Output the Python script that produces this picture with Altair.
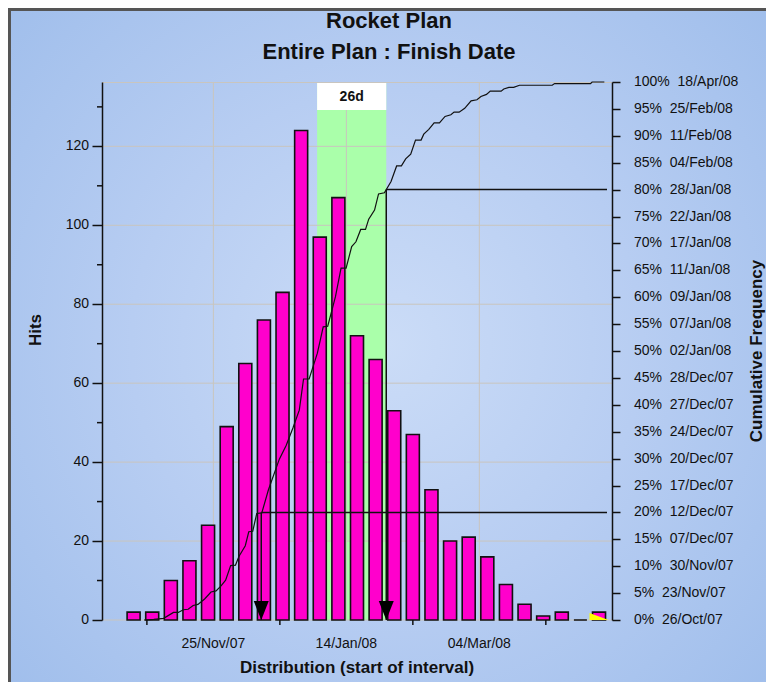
import altair as alt
import pandas as pd

# ---------------- data ----------------
bin_start = ["2007-10-26", "2007-11-02", "2007-11-09", "2007-11-16", "2007-11-23", "2007-11-30",
             "2007-12-07", "2007-12-14", "2007-12-21", "2007-12-28", "2008-01-04", "2008-01-11",
             "2008-01-18", "2008-01-25", "2008-02-01", "2008-02-08", "2008-02-15", "2008-02-22",
             "2008-02-29", "2008-03-07", "2008-03-14", "2008-03-21", "2008-03-28", "2008-04-04",
             "2008-04-11", "2008-04-18"]
hits = [2, 2, 10, 15, 24, 49, 65, 76, 83, 124, 97, 107, 72, 66, 53, 47, 33, 20, 21, 16, 9, 4, 1, 2, 0, 2]

# cumulative curve: days after first interval start, cumulative percent
cdf_days = [3.9, 7.6, 11.3, 15.0, 16.8, 18.7, 20.5, 22.4, 24.2, 26.7, 29.1, 31.0, 32.8, 34.6,
            36.5, 38.3, 39.6, 42.0, 43.3, 44.8, 46.3, 48.2, 50.7, 54.8, 57.4, 59.9, 62.3, 63.9,
            66.0, 69.1, 71.3, 73.0, 75.9, 78.0, 79.9, 82.0, 83.6, 85.4, 87.2, 88.4, 90.6, 92.1,
            94.3, 96.8, 98.9, 100.7, 102.3, 104.2, 106.0, 108.1, 109.1, 111.0, 113.0, 115.0,
            117.1, 119.3, 120.5, 122.4, 124.5, 126.9, 129.1, 130.6, 132.7, 134.1, 138.2, 139.2,
            141.1, 142.9, 145.1, 157.4, 158.3, 171.8, 172.4, 177.0]
cdf_pct = [0, 0.1, 0.3, 1.4, 1.4, 1.9, 2.0, 2.7, 2.9, 3.9, 5.2, 5.4, 6.3, 7.4,
           10.1, 10.2, 11.8, 13.8, 16.4, 16.5, 19.8, 19.9, 24.2, 29.9, 32.5, 35.7, 39.0, 44.8,
           44.8, 49.6, 54.5, 54.6, 60.1, 65.4, 65.4, 69.4, 70.3, 72.6, 72.6, 74.5, 76.2, 79.2,
           79.4, 81.5, 84.4, 84.4, 85.7, 86.6, 89.2, 89.2, 90.3, 91.2, 92.4, 92.4,
           93.6, 93.9, 94.4, 94.4, 95.1, 96.5, 96.7, 97.3, 97.7, 98.3, 98.3, 98.7,
           99.0, 99.0, 99.4, 99.4, 99.7, 99.7, 100, 100]

pct_ticks = [0, 5, 10, 15, 20, 25, 30, 35, 40, 45, 50, 55, 60, 65, 70, 75, 80, 85, 90, 95, 100]
pct_dates = ["26/Oct/07", "23/Nov/07", "30/Nov/07", "07/Dec/07", "12/Dec/07", "17/Dec/07",
             "20/Dec/07", "24/Dec/07", "27/Dec/07", "28/Dec/07", "02/Jan/08", "07/Jan/08",
             "09/Jan/08", "11/Jan/08", "17/Jan/08", "22/Jan/08", "28/Jan/08", "04/Feb/08",
             "11/Feb/08", "25/Feb/08", "18/Apr/08"]

marker_pct = [20, 80]
marker_dates = ["2007-12-13", "2008-01-29"]
band_dates = ["2008-01-03", "2008-01-29"]
band_label = ["26d"]
flag_date = ["2008-04-18"]

x_domain = ["2007-10-16", "2008-04-21"]
x_major = ["2007-11-25", "2008-01-14", "2008-03-04"]
x_minor = ["2007-10-31", "2007-12-20", "2008-02-08", "2008-03-29"]
y_major = [0, 20, 40, 60, 80, 100, 120]
y_minor = [10, 30, 50, 70, 90, 110, 130]
y_max = 136.3

titles = ["Rocket Plan", "Entire Plan : Finish Date"]
x_title = "Distribution (start of interval)"
y_title = "Hits"
y2_title = "Cumulative Frequency"

# ---------------- layout / style ----------------
W, H = 510, 538
PL, PT, PR, PB = 94, 74, 154, 62
FONT = "Liberation Sans"
INK = "#111111"
GRID = "#c9c5be"
LBL = 14


def dt(s):
    y, m, d = (int(v) for v in s.split("-"))
    return alt.DateTime(year=y, month=m, date=d)


X_SCALE = alt.Scale(domain=[dt(x_domain[0]), dt(x_domain[1])])
Y_SCALE = alt.Scale(domain=[0, y_max], nice=False, zero=True)
P_SCALE = alt.Scale(domain=[0, 100], nice=False)

bars_df = pd.DataFrame({"date": pd.to_datetime(bin_start), "hits": hits})
cdf_df = pd.DataFrame({"date": pd.Timestamp(bin_start[0]) + pd.to_timedelta(cdf_days, unit="D"),
                       "pct": cdf_pct})
mark_df = pd.DataFrame({"date": pd.to_datetime(marker_dates), "pct": marker_pct,
                        "end": pd.to_datetime([x_domain[1]] * len(marker_dates))})
b0, b1 = pd.to_datetime(band_dates)
band_df = pd.DataFrame({"start": [b0], "end": [b1], "mid": [b0 + (b1 - b0) / 2], "label": band_label})
flag_df = pd.DataFrame({"date": pd.to_datetime(flag_date)})
xmaj_df = pd.DataFrame({"date": pd.to_datetime(x_major)})
xmin_df = pd.DataFrame({"date": pd.to_datetime(x_minor)})
ymaj_df = pd.DataFrame({"v": y_major})
ymin_df = pd.DataFrame({"v": y_minor})
plab_df = pd.DataFrame({"pct": pct_ticks,
                        "label": ["{}%\u00a0\u00a0{}".format(p, d) for p, d in zip(pct_ticks, pct_dates)]})
one = pd.DataFrame({"k": [0]})

bg_grad = alt.Gradient(
    gradient="radial",
    stops=[alt.GradientStop(color="#cbdcf7", offset=0),
           alt.GradientStop(color="#b7cdf2", offset=0.45),
           alt.GradientStop(color="#9bbbea", offset=1)],
    x1=0.5, y1=0.5, x2=0.5, y2=0.5, r1=0, r2=0.75,
)

AX = dict(grid=False, labels=False, tickWidth=1.5, tickColor=INK, domainColor=INK,
          domainWidth=1.5, zindex=1)

# ---------------- layers ----------------
background = alt.Chart(one).mark_rect(color=bg_grad).encode(
    x=alt.value(-PL), x2=alt.value(W + PR), y=alt.value(-PT), y2=alt.value(H + PB)
)
frame_left = alt.Chart(one).mark_rule(color="#555555", strokeWidth=3).encode(
    x=alt.value(-PL + 1.5), y=alt.value(-PT), y2=alt.value(H + PB)
)
frame_top = alt.Chart(one).mark_rule(color="#555555", strokeWidth=3).encode(
    x=alt.value(-PL), x2=alt.value(W + PR), y=alt.value(-PT + 1.5)
)

band = alt.Chart(band_df).mark_rect(color="#aaffaa").encode(
    x=alt.X("start:T", scale=X_SCALE, axis=None), x2="end:T",
    y=alt.value(1), y2=alt.value(H)
)
grid_h = alt.Chart(ymaj_df).mark_rule(color=GRID, strokeWidth=1).encode(
    y=alt.Y("v:Q", scale=Y_SCALE, axis=None)
)
grid_v = alt.Chart(xmaj_df).mark_rule(color=GRID, strokeWidth=1).encode(
    x=alt.X("date:T", scale=X_SCALE, axis=None)
)
grid_top = alt.Chart(one).mark_rule(color=GRID, strokeWidth=1).encode(y=alt.value(0.5))

band_box = alt.Chart(band_df).mark_rect(color="white").encode(
    x=alt.X("start:T", scale=X_SCALE, axis=None), x2="end:T",
    y=alt.value(1), y2=alt.value(28)
)
band_text = alt.Chart(band_df).mark_text(
    font=FONT, fontSize=14, fontWeight="bold", color=INK, baseline="middle", align="center"
).encode(x=alt.X("mid:T", scale=X_SCALE, axis=None), y=alt.value(15), text="label:N")

bars = alt.Chart(bars_df).mark_bar(
    size=13, color="#ff00cc", stroke=INK, strokeWidth=1.6
).encode(
    x=alt.X("date:T", scale=X_SCALE, title=None,
            axis=alt.Axis(values=[dt(s) for s in x_major], tickSize=10, **AX)),
    y=alt.Y("hits:Q", scale=Y_SCALE, title=None,
            axis=alt.Axis(values=y_major, tickSize=10, **AX)),
)

flag = alt.Chart(flag_df).mark_point(
    shape="M-1,0.26L-1,1L1,1Z", filled=True, color="#ffff00", opacity=1, size=361, yOffset=-9.5
).encode(x=alt.X("date:T", scale=X_SCALE, axis=None), y=alt.value(H))

minor_y = alt.Chart(ymin_df).mark_rule(color=INK, strokeWidth=1.5).encode(
    y=alt.Y("v:Q", scale=Y_SCALE, axis=None), x=alt.value(-5), x2=alt.value(0)
)
minor_x = alt.Chart(xmin_df).mark_rule(color=INK, strokeWidth=1.5).encode(
    x=alt.X("date:T", scale=X_SCALE, axis=None), y=alt.value(H), y2=alt.value(H + 5)
)

# tick labels (left and bottom) placed through the scales
ylabels = alt.Chart(ymaj_df).mark_text(
    font=FONT, fontSize=LBL, color=INK, align="right", baseline="middle"
).encode(y=alt.Y("v:Q", scale=Y_SCALE, axis=None), x=alt.value(-13), text="v:Q")
xlabels = alt.Chart(xmaj_df).mark_text(
    font=FONT, fontSize=LBL, color=INK, align="center", baseline="alphabetic"
).encode(x=alt.X("date:T", scale=X_SCALE, axis=None), y=alt.value(H + 28),
         text=alt.Text("date:T", format="%d/%b/%y"))

cdf = alt.Chart(cdf_df).mark_line(color=INK, strokeWidth=1.2).encode(
    x=alt.X("date:T", scale=X_SCALE, axis=None),
    y=alt.Y("pct:Q", scale=P_SCALE, title=None,
            axis=alt.Axis(orient="right", values=pct_ticks, tickSize=8, **AX)),
)
plabels = alt.Chart(plab_df).mark_text(
    font=FONT, fontSize=LBL, color=INK, align="left", baseline="middle", dx=22
).encode(y=alt.Y("pct:Q", scale=P_SCALE, axis=None), x=alt.value(W), text="label:N")
mk_h = alt.Chart(mark_df).mark_rule(color=INK, strokeWidth=1.5).encode(
    x=alt.X("date:T", scale=X_SCALE, axis=None), x2="end:T",
    y=alt.Y("pct:Q", scale=P_SCALE, axis=None)
)
mk_v = alt.Chart(mark_df).mark_rule(color=INK, strokeWidth=1.5).encode(
    x=alt.X("date:T", scale=X_SCALE, axis=None),
    y=alt.Y("pct:Q", scale=P_SCALE, axis=None), y2=alt.value(H)
)
arrows = alt.Chart(mark_df).mark_point(
    shape="M-0.79,-1L0.79,-1L0,1Z", filled=True, color="black", opacity=1, size=361, yOffset=-9.5
).encode(x=alt.X("date:T", scale=X_SCALE, axis=None), y=alt.value(H))


def txt(s, x, y, size, angle=0):
    return alt.Chart(one).mark_text(
        text=s, font=FONT, fontSize=size, fontWeight="bold", color=INK,
        align="center", baseline="middle", angle=angle
    ).encode(x=alt.value(x), y=alt.value(y))


t1 = txt(titles[0], 287, -61, 22)
t2 = txt(titles[1], 287, -30, 22)
tx = txt(x_title, W / 2, 586, 17)
ty = txt(y_title, -66, 248, 17, 270)
ty2 = txt(y2_title, 655, H / 2, 17, 270)

chart = alt.layer(
    background, frame_left, frame_top, band, grid_h, grid_v, grid_top,
    band_box, band_text, bars, flag, minor_y, minor_x, ylabels, xlabels,
    cdf, plabels, mk_h, mk_v, arrows, t1, t2, tx, ty, ty2
).resolve_scale(y="independent").properties(
    width=W, height=H,
    padding={"left": PL, "top": PT, "right": PR, "bottom": PB},
    autosize=alt.AutoSizeParams(type="none"),
).configure(background="white").configure_view(strokeWidth=0)

chart.save("out.html", embed_options={"renderer": "svg", "actions": False})
